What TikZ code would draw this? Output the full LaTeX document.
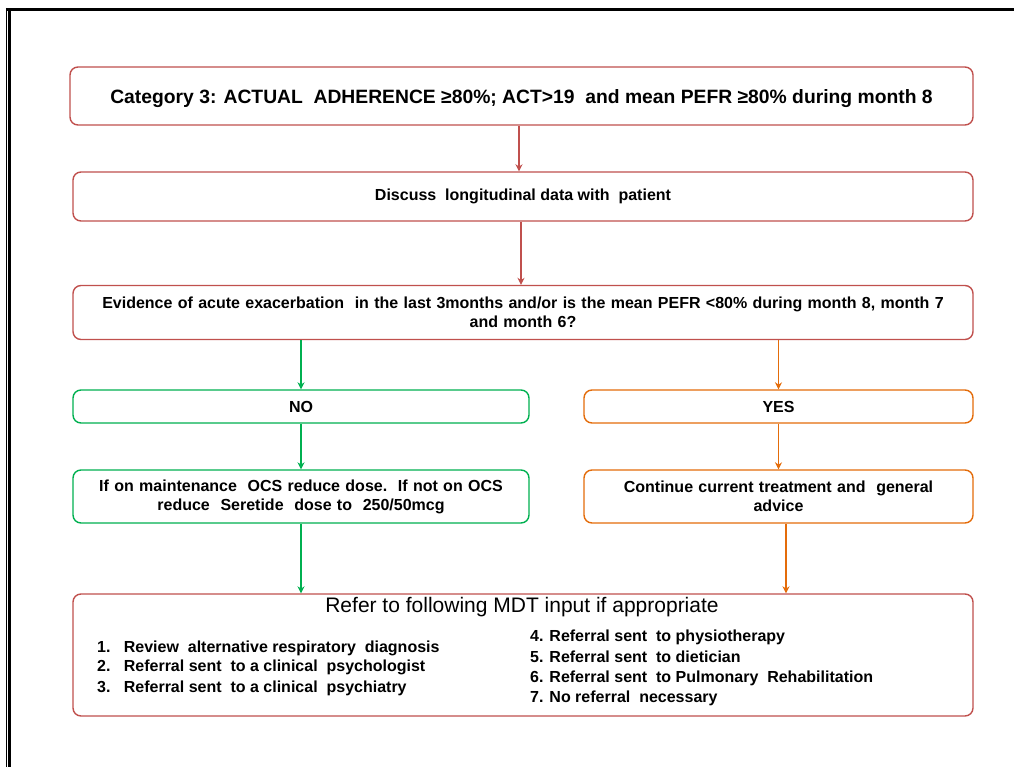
\documentclass[tikz,border=0pt]{standalone}
\usepackage{fontspec}
\setmainfont{Liberation Sans}
\usetikzlibrary{arrows.meta}
\definecolor{flowred}{RGB}{192,80,77}
\definecolor{flowgreen}{RGB}{0,176,80}
\definecolor{floworange}{RGB}{228,108,10}
\begin{document}
\begin{tikzpicture}[x=1pt,y=-1pt,
  box/.style={draw, line width=1.4pt, rounded corners=8pt, fill=white, inner sep=0pt, align=center},
  redbox/.style={box, draw=flowred},
  greenbox/.style={box, draw=flowgreen},
  orangebox/.style={box, draw=floworange},
  arr/.style={line width=1.4pt, -{Stealth[length=7pt,width=7pt]}},
  txt/.style={font=\fontsize{16}{19}\selectfont\bfseries},
  item/.style={font=\fontsize{16}{20}\selectfont\bfseries, anchor=west, inner sep=0pt, align=left}
]
\useasboundingbox (0,0) rectangle (1014,767);
% page frame
\draw[line width=1.2pt] (6.5,8) -- (6.5,767);
\draw[line width=2.6pt] (9.2,10) -- (9.2,767);
\draw[line width=3pt] (5.9,9.5) -- (1014,9.5);

% boxes
\node[redbox, minimum width=903, minimum height=58] (cat) at (521.5,96) {};
\node[inner sep=0pt, font=\fontsize{19.3}{22}\selectfont\bfseries] (cattext) at (521.5,99)
  {Category 3: ACTUAL\ \ ADHERENCE ≥80\%; ACT>19\ \ and mean PEFR ≥80\% during month 8};
\node[redbox, minimum width=900, minimum height=49, txt] (disc) at (523,196.5)
  {Discuss\ \ longitudinal data with\ \ patient};
\node[redbox, minimum width=900, minimum height=54, txt, text width=890] (evid) at (523,312.5)
  {Evidence of acute exacerbation\ \ in the last 3months and/or is the mean PEFR <80\% during month 8, month 7\\ and month 6?};
\node[greenbox, minimum width=456, minimum height=33, txt] (no) at (301,406.5) {NO};
\node[orangebox, minimum width=389, minimum height=33, txt] (yes) at (778.5,406.5) {YES};
\node[greenbox, minimum width=456, minimum height=53, txt, text width=446] (red) at (301,496.5)
  {If on maintenance\ \ OCS reduce dose.\ \ If not on OCS\\ reduce\ \ Seretide\ \ dose to\ \ 250/50mcg};
\node[orangebox, minimum width=389, minimum height=53, txt, text width=375] (cont) at (778.5,496.5)
  {Continue current\ treatment and\ \ general\\ advice};
\node[redbox, minimum width=900, minimum height=122] (mdt) at (523,655) {};

% referral list
\node[font=\fontsize{21}{24}\selectfont, inner sep=0pt] (mdttitle) at (522,607)
  {Refer to following MDT input if appropriate};
\node[item] (l1) at (97,648) {1.\ \ \ Review\ \ alternative respiratory\ \ diagnosis};
\node[item] (l2) at (97,667) {2.\ \ \ Referral sent\ \ to a clinical\ \ psychologist};
\node[item] (l3) at (97,688) {3.\ \ \ Referral sent\ \ to a clinical\ \ psychiatry};
\node[item] (r4) at (530,637) {4. Referral sent\ \ to physiotherapy};
\node[item] (r5) at (530,657) {5. Referral sent\ \ to dietician};
\node[item] (r6) at (530,678) {6. Referral sent\ \ to Pulmonary\ \ Rehabilitation};
\node[item] (r7) at (530,698) {7. No referral\ \ necessary};

% connectors
\draw[arr, draw=flowred] ([xshift=-2.5pt]cat.south) -- ([xshift=-2.5pt]cat.south |- disc.north);
\draw[arr, draw=flowred] ([xshift=-2pt]disc.south) -- ([xshift=-2pt]disc.south |- evid.north);
\draw[arr, draw=flowgreen] (evid.south -| no.north) -- (no.north);
\draw[arr, draw=floworange] (evid.south -| yes.north) -- (yes.north);
\draw[arr, draw=flowgreen] (no.south) -- (red.north);
\draw[arr, draw=floworange] (yes.south) -- (cont.north);
\draw[arr, draw=flowgreen] (red.south) -- (red.south |- mdt.north);
\draw[arr, draw=floworange] ([xshift=7.5pt]cont.south) -- ([xshift=7.5pt]cont.south |- mdt.north);
\end{tikzpicture}
\end{document}
